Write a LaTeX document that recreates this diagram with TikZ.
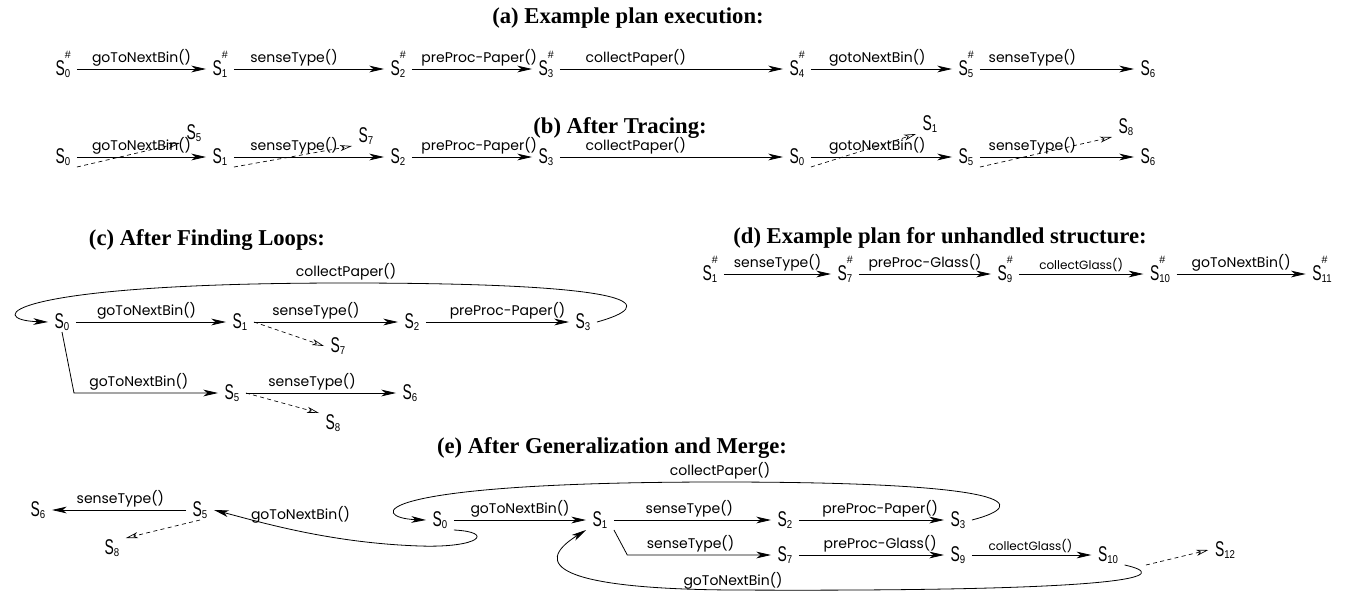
\documentclass[tikz,border=0pt]{standalone}
\usepackage{fontspec}
\usetikzlibrary{arrows.meta}
\newfontfamily\labfont{Poppins}
\newfontfamily\statefont{Liberation Sans}
\newfontfamily\titlefont{Liberation Serif}
\newcommand{\bigS}{\scalebox{0.65}[1]{\fontsize{16}{16}\selectfont S}}
\newcommand{\subix}[1]{\raisebox{-2.2pt}{\scalebox{0.85}[1]{\fontsize{8.5}{9}\selectfont #1}}}
\newcommand{\st}[1]{{\statefont\bigS\subix{#1}}}
\newcommand{\sth}[1]{{\statefont\bigS\rlap{\smash{\raisebox{12.5pt}{\fontsize{8}{8}\selectfont\#}}}\subix{#1}}}
\tikzset{
  stnode/.style={inner xsep=5pt, inner ysep=0pt, outer sep=0pt, text height=12pt, text depth=3pt},
  tr/.style={-{Stealth[length=11pt,width=5pt,inset=3pt]}, line width=0.6pt},
  ob/.style={dash pattern=on 3pt off 2.5pt, line width=0.5pt, -{Stealth[open,length=9pt,width=4.5pt,inset=2.5pt]}},
  lab/.style={above, inner sep=1.5pt, font=\labfont\fontsize{10.5}{11}\selectfont},
  slab/.style={lab, font=\labfont\fontsize{9}{10}\selectfont},
  ttl/.style={font=\titlefont\bfseries\fontsize{17}{18}\selectfont}
}
\begin{document}
\begin{tikzpicture}[x=0.75pt,y=-0.75pt]
    \useasboundingbox (0,0) rectangle (1357,597);
    % (a)
    \node[ttl] (ta) at (628,18) {(a) Example plan execution:};
    \node[stnode] (a0) at (63,69) {\sth{0}};
    \node[stnode] (a1) at (220,69) {\sth{1}};
    \node[stnode] (a2) at (398,69) {\sth{2}};
    \node[stnode] (a3) at (546,69) {\sth{3}};
    \node[stnode] (a4) at (797,69) {\sth{4}};
    \node[stnode] (a5) at (966,69) {\sth{5}};
    \node[stnode] (a6) at (1148,69) {\st{6}};
    \draw[tr] (a0) -- (a1) node[lab, pos=.5] {goToNextBin()};
    \draw[tr] (a1) -- (a2) node[lab, pos=.4] {senseType()};
    \draw[tr] (a2) -- (a3) node[lab, pos=.56] {preProc-Paper()};
    \draw[tr] (a3) -- (a4) node[lab, pos=.34] {collectPaper()};
    \draw[tr] (a4) -- (a5) node[lab, pos=.47] {gotoNextBin()};
    \draw[tr] (a5) -- (a6) node[lab, pos=.34] {senseType()};
    % (b)
    \node[ttl] (tb) at (620,128) {(b) After Tracing:};
    \node[stnode] (b0) at (63,157) {\st{0}};
    \node[stnode] (b1) at (220,157) {\st{1}};
    \node[stnode] (b2) at (398,157) {\st{2}};
    \node[stnode] (b3) at (546,157) {\st{3}};
    \node[stnode] (b4) at (797,157) {\st{0}};
    \node[stnode] (b5) at (966,157) {\st{5}};
    \node[stnode] (b6) at (1148,157) {\st{6}};
    \node[stnode] (bx5) at (194,133) {\st{5}};
    \node[stnode] (bx7) at (366,136) {\st{7}};
    \node[stnode] (bx1) at (930,124) {\st{1}};
    \node[stnode] (bx8) at (1126,127) {\st{8}};
    \draw[tr] (b0) -- (b1) node[lab, pos=.5] {goToNextBin()};
    \draw[tr] (b1) -- (b2) node[lab, pos=.4] {senseType()};
    \draw[tr] (b2) -- (b3) node[lab, pos=.56] {preProc-Paper()};
    \draw[tr] (b3) -- (b4) node[lab, pos=.34] {collectPaper()};
    \draw[tr] (b4) -- (b5) node[lab, pos=.47] {gotoNextBin()};
    \draw[tr] (b5) -- (b6) node[lab, pos=.34] {senseType()};
    \draw[ob] (b0.south east) -- (bx5.south west);
    \draw[ob] (b1.south east) -- (bx7.south west);
    \draw[ob] (b4.south east) -- (bx1.south west);
    \draw[ob] (b5.south east) -- (bx8.south west);
    % (c)
    \node[ttl] (tc) at (207,240) {(c) After Finding Loops:};
    \node[stnode] (c0) at (62,322) {\st{0}};
    \node[stnode] (c1) at (240,322) {\st{1}};
    \node[stnode] (c2) at (412,322) {\st{2}};
    \node[stnode] (c3) at (583,322) {\st{3}};
    \node[stnode] (c7) at (338,346) {\st{7}};
    \node[stnode] (c5) at (232,393) {\st{5}};
    \node[stnode] (c6) at (410,393) {\st{6}};
    \node[stnode] (c8) at (333,423) {\st{8}};
    \draw[tr] (c0) -- (c1) node[lab, pos=.47] {goToNextBin()};
    \draw[tr] (c1) -- (c2) node[lab, pos=.43] {senseType()};
    \draw[tr] (c2) -- (c3) node[lab, pos=.57] {preProc-Paper()};
    \draw[tr] (c3.east) .. controls (655,306) and (655,283) .. (346,283) node[lab] {collectPaper()}
        .. controls (0,283) and (-15,320) .. (c0.west);
    \draw[ob] (c1.east) -- (c7.west);
    \draw[tr] (c0.south) -- ([xshift=9pt]c0.south |- c5) -- (c5) node[lab, pos=.45] {goToNextBin()};
    \draw[tr] (c5) -- (c6) node[lab, pos=.44] {senseType()};
    \draw[ob] (c5.east) -- (c8.north west);
    % (d)
    \node[ttl] (td) at (940,238) {(d) Example plan for unhandled structure:};
    \node[stnode] (d1) at (710,274) {\sth{1}};
    \node[stnode] (d7) at (845,274) {\sth{7}};
    \node[stnode] (d9) at (1005,274) {\sth{9}};
    \node[stnode] (d10) at (1160,274) {\sth{10}};
    \node[stnode] (d11) at (1322,274) {\sth{11}};
    \draw[tr] (d1) -- (d7) node[lab, pos=.5] {senseType()};
    \draw[tr] (d7) -- (d9) node[lab, pos=.5] {preProc-Glass()};
    \draw[tr] (d9) -- (d10) node[slab, pos=.5] {collectGlass()};
    \draw[tr] (d10) -- (d11) node[lab, pos=.5] {goToNextBin()};
    % (e)
    \node[ttl] (te) at (612,448) {(e) After Generalization and Merge:};
    \node[stnode] (e6) at (38,510) {\st{6}};
    \node[stnode] (e5) at (200,510) {\st{5}};
    \node[stnode] (e8) at (112,548) {\st{8}};
    \node[stnode] (e0) at (440,520) {\st{0}};
    \node[stnode] (e1) at (600,520) {\st{1}};
    \node[stnode] (e2) at (785,520) {\st{2}};
    \node[stnode] (e3) at (958,520) {\st{3}};
    \node[stnode] (e7) at (785,555) {\st{7}};
    \node[stnode] (e9) at (958,555) {\st{9}};
    \node[stnode] (e10) at (1108,555) {\st{10}};
    \node[stnode] (e12) at (1225,550) {\st{12}};
    \draw[tr] (e5) -- (e6) node[lab, pos=.49] {senseType()};
    \draw[ob] (e5.south) -- (e8.north east);
    \draw[tr] (e0.south east) .. controls (495,532) and (480,548) .. (420,546)
        .. controls (330,543) and (260,522) .. (e5.east) node[lab, pos=.5, above=4pt] {goToNextBin()};
    \draw[tr] (e0) -- (e1) node[lab, pos=.5] {goToNextBin()};
    \draw[tr] (e1) -- (e2) node[lab, pos=.48] {senseType()};
    \draw[tr] (e2) -- (e3) node[lab, pos=.56] {preProc-Paper()};
    \draw[tr] (e3.east) .. controls (1030,505) and (1020,482) .. (720,482) node[lab] {collectPaper()}
        .. controls (360,482) and (370,518) .. (e0.west);
    \draw[tr] (e1.south east) -- ([xshift=10pt]e1.south east |- e7) -- (e7) node[lab, pos=.44] {senseType()};
    \draw[tr] (e7) -- (e9) node[lab, pos=.56] {preProc-Glass()};
    \draw[tr] (e9) -- (e10) node[slab, pos=.49] {collectGlass()};
    \draw[ob] ([xshift=16pt]e10.south east) -- (e12.west);
    \draw[tr] (e10.south east) .. controls (1170,575) and (1150,592) .. (733,590) node[lab, inner sep=0pt] {goToNextBin()}
        .. controls (560,589) and (530,565) .. (e1.south west);
\end{tikzpicture}
\end{document}
